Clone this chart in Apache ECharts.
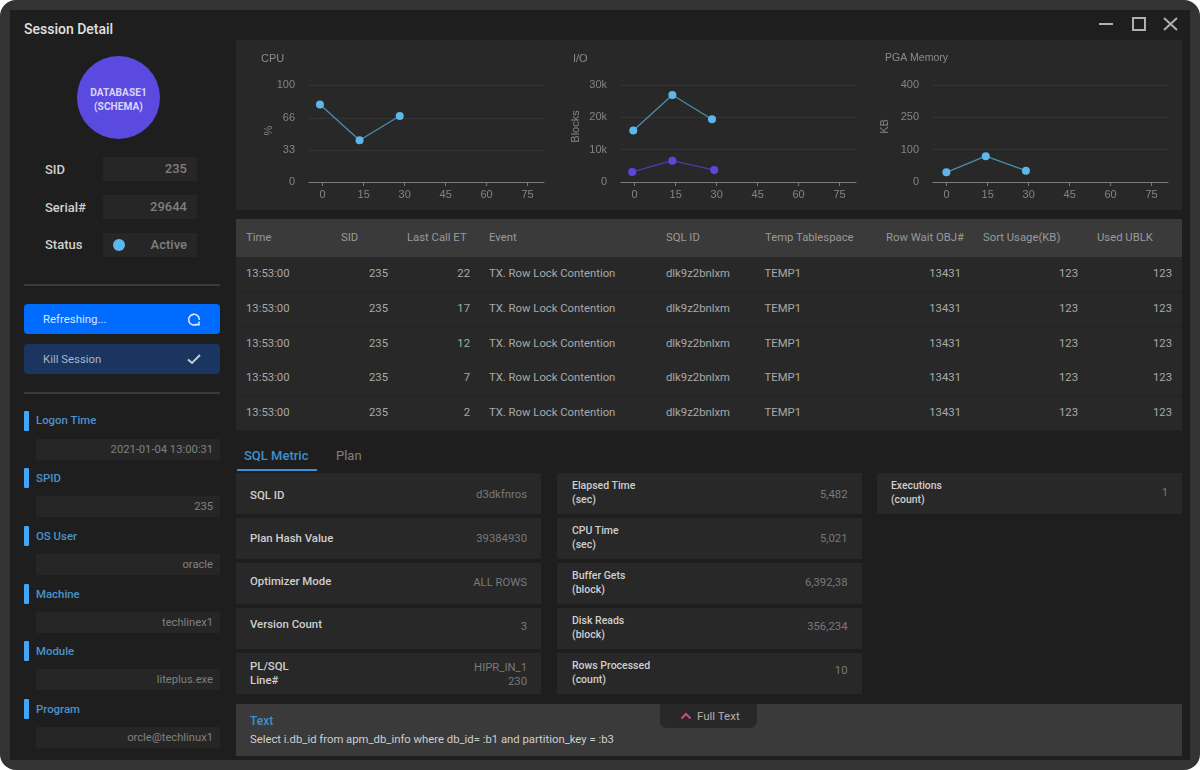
<!DOCTYPE html>
<html>
<head>
<meta charset="utf-8">
<title>Session Detail</title>
<script src="https://cdn.jsdelivr.net/npm/echarts@6/dist/echarts.min.js"></script>
<style>
html,body{margin:0;padding:0;width:1200px;height:770px;overflow:hidden;background:#fff;}
#frame{position:absolute;left:0;top:0;width:1200px;height:770px;background:#333;border-radius:16px;}
#win{position:absolute;left:10px;top:10px;width:1180px;height:750px;background:#1e1e1e;}
.p{position:absolute;font-family:Roboto,sans-serif;white-space:nowrap;box-sizing:border-box;}
#charts{position:absolute;left:236px;top:40px;width:946px;height:170px;}
</style>
</head>
<body>
<div id="frame"></div>
<div id="win"></div>
<div id="page"></div>
<div id="charts"></div>
<script>
// chart data
var xTicks = [0,15,30,45,60,75];
var cpuTicks = [0,33,66,100];
var ioTicks = [0,10000,20000,30000];
var pgaTicks = [0,100,200,300];
var pgaLabels = ['0','100','250','400'];
var cpuTimes = [-1,13.5,28.2];
var cpuValues = [80,43,68];
var ioTimes = [-0.5,13.8,28.3];
var ioBlueValues = [15900,26900,19400];
var ioPurpleTimes = [-0.9,13.8,29.1];
var ioPurpleValues = [3100,6600,3700];
var pgaTimes = [-0.1,14.3,29];
var pgaValues = [30,80,35];

// sidebar + table + metric texts
var detailLabels = ['Logon Time','SPID','OS User','Machine','Module','Program'];
var detailValues = ['2021-01-04 13:00:31','235','oracle','techlinex1','liteplus.exe','orcle@techlinux1'];
var infoLabels = ['SID','Serial#','Status'];
var infoValues = ['235','29644','Active'];
var tableHeads = ['Time','SID','Last Call ET','Event','SQL ID','Temp Tablespace','Row Wait OBJ#','Sort Usage(KB)','Used UBLK'];
var lastCallEt = [22,17,12,7,2];
var rowTime = '13:53:00', rowSid = '235', rowEvent = 'TX. Row Lock Contention', rowSqlId = 'dlk9z2bnlxm';
var rowTemp = 'TEMP1', rowObj = '13431', rowSort = '123', rowUblk = '123';
var metric1Labels = ['SQL ID','Plan Hash Value','Optimizer Mode','Version Count','PL/SQL<br>Line#'];
var metric1Values = ['d3dkfnros','39384930','ALL ROWS','3','HIPR_IN_1<br>230'];
var metric2Labels = ['Elapsed Time<br>(sec)','CPU Time<br>(sec)','Buffer Gets<br>(block)','Disk Reads<br>(block)','Rows Processed<br>(count)'];
var metric2Values = ['5,482','5,021','6,392,38','356,234','10'];
var metric3Labels = ['Executions<br>(count)'];
var metric3Values = ['1'];
var sqlText = 'Select i.db_id from apm_db_info where db_id= :b1 and partition_key = :b3';

var page = document.getElementById('page');
function place(x,y,w,h,css,html){
	var d = document.createElement('div');
	d.className = 'p';
	d.style.cssText = 'left:'+x+'px;top:'+y+'px;width:'+w+'px;height:'+h+'px;line-height:'+h+'px;'+(css||'');
	if(html){d.innerHTML = html;}
	page.appendChild(d);
	return d;
}

// window title + buttons
place(24,19,200,20,'color:#e0e0e0;font-size:14px;font-weight:500;','Session Detail');
place(1090,10,100,30,'',
	'<svg width="100" height="30" fill="none" stroke="#b0b0b0" stroke-width="2">'+
	'<path d="M9 14H23"/><rect x="43" y="8" width="12" height="12"/><path d="M74 8L87 20M87 8L74 20"/></svg>');

// sidebar top
place(77,56,83,83,'background:#5a4ae0;border-radius:50%;');
place(77,86,83,14,'text-align:center;color:#d8d4f5;font-size:10.2px;font-weight:700;','DATABASE1');
place(77,100,83,14,'text-align:center;color:#d8d4f5;font-size:10.2px;font-weight:700;','(SCHEMA)');
for(var i=0;i<infoLabels.length;i++){
	var iy = 157+i*38;
	place(45,i==2?iy:iy+1,55,24,'color:#d0d0d0;font-size:13px;font-weight:500;',infoLabels[i]);
	place(103,iy,94,24,'background:#262626;padding-right:10px;text-align:right;color:#7e7e7e;font-size:13px;font-weight:500;',infoValues[i]);
}
place(113,239,12,12,'background:#5db7ea;border-radius:50%;');

// buttons
place(24,284,196,2,'background:#3a3a3a;');
place(24,304,196,30,'background:#006cff;border-radius:4px;padding-left:19px;color:#d8e6ff;font-size:11.4px;','Refreshing...');
place(186,311,16,16,'','<svg width="16" height="16" fill="none" stroke="#dde8ff" stroke-width="1.6"><path d="M11 13.2A5.4 5.4 0 1 1 13.4 9"/><path d="M9.5 13.6H13V10.5"/></svg>');
place(24,344,196,30,'background:#1a3560;border-radius:4px;padding-left:19px;color:#a9b4c6;font-size:11.4px;','Kill Session');
place(186,351,16,16,'','<svg width="16" height="16" fill="none" stroke="#c8ccd2" stroke-width="2"><path d="M2 8.5L6 12L14 4"/></svg>');
place(24,392,196,2,'background:#3a3a3a;');

// sidebar details
for(var i=0;i<detailLabels.length;i++){
	var dy = Math.round(410.5+i*57.7);
	place(24,dy,4.5,20,'background:#42a5f5;border-radius:1px;');
	place(36,i==0?dy-1:dy,180,20,'color:#4a93cc;font-size:11.4px;font-weight:500;',detailLabels[i]);
	place(36,dy+28,184,21,'background:#262626;padding-right:7px;text-align:right;color:#808080;font-size:11.2px;',detailValues[i]);
}

// chart panel
place(236,40,946,170,'background:#282828;');

// table
place(236,219,946,38,'background:#3a3a3a;');
var headX = [246,341,407,489,666,765,886,983,1097];
for(var i=0;i<tableHeads.length;i++){
	place(headX[i],219,120,38,'color:#999;font-size:11.3px;',tableHeads[i]);
}
function cellLeft(x,y,t){place(x,y,180,34,'color:#a8a8a8;font-size:11.3px;',t);}
function cellRight(xr,y,t){place(xr-80,y,80,34,'text-align:right;color:#a8a8a8;font-size:11.3px;',t);}
for(var i=0;i<lastCallEt.length;i++){
	var ry = Math.round(257+i*34.75);
	place(236,ry,946,35,'background:#282828;border-bottom:1px solid #222;');
	cellLeft(246,ry,rowTime);
	cellRight(388,ry,rowSid);
	cellRight(470,ry,''+lastCallEt[i]);
	cellLeft(489,ry,rowEvent);
	cellLeft(666,ry,rowSqlId);
	cellLeft(764.5,ry,rowTemp);
	cellRight(961,ry,rowObj);
	cellRight(1078,ry,rowSort);
	cellRight(1172,ry,rowUblk);
}

// tabs
place(244,446,80,20,'color:#3f8fd0;font-size:13px;font-weight:500;','SQL Metric');
place(336,446,50,20,'color:#808080;font-size:13px;','Plan');
place(237,469,80,2,'background:#3a8fd6;');

// metric cards, the text drifts a little against the cards in the original
function metricCol(x,w,fs,pad,labels,values,labelDrift,valueDrift){
	for(var i=0;i<labels.length;i++){
		var cy = Math.round(472.5+i*45);
		place(x,cy,w,40.5,'background:#282828;');
		place(x+pad,cy+5.5+labelDrift(i),200,29,'line-height:14.5px;color:#cfcfcf;font-size:'+fs+'px;font-weight:500;display:flex;align-items:center;','<span>'+labels[i]+'</span>');
		place(x+w-164,cy+5.5+valueDrift(i),150,29,'line-height:14.5px;text-align:right;color:#797979;font-size:11.3px;display:flex;align-items:center;justify-content:flex-end;','<span>'+values[i]+'</span>');
	}
}
function none(i){return 0;}
metricCol(236,305,11.4,14,metric1Labels,metric1Values,
	function(i){return i==4?0:2-2*i;},
	function(i){return i==4?2:2-i;});
metricCol(557,304.5,10.5,15,metric2Labels,metric2Values,none,
	function(i){return 2-i;});
metricCol(877,305,10.4,14,metric3Labels,metric3Values,none,none);

// sql text bar
place(236,704,946,52,'background:#3a3a3a;');
place(250,714,60,14,'color:#3f8fd0;font-size:12px;font-weight:500;','Text');
place(250,732,800,15,'color:#cfcfcf;font-size:11.3px;',sqlText);
place(660,704,97,24,'background:#282828;border-radius:0 0 7px 7px;');
place(680,711,12,10,'','<svg width="12" height="10" fill="none" stroke="#d04a80" stroke-width="2"><path d="M1.5 7.5L6 3L10.5 7.5"/></svg>');
place(697,704,60,24,'color:#b0b0b0;font-size:11.5px;','Full Text');

// charts
var chartFont = '"Liberation Sans",Arial,sans-serif';
var chartTitles = ['CPU','I/O','PGA Memory'];
var titleLeft = [25,337,649];
var gridLeft = [73,385,697];
var yNames = ['%','Blocks','KB'];
var yNameGap = [35,40,43];
var yNameShift = [6,14,14];
var yMax = [100,30000,300];
var yTicks = [cpuTicks,ioTicks,pgaTicks];

function yLabel(idx,value){
	if(idx==1){return value==0?'0':(value/1000)+'k';}
	if(idx==2){return pgaLabels[pgaTicks.indexOf(value)];}
	return ''+value;
}

var option = {
	animation:false,
	backgroundColor:'transparent',
	title:[],grid:[],xAxis:[],yAxis:[],
	series:[]
};
for(var i=0;i<3;i++){
	option.title.push({text:chartTitles[i],left:titleLeft[i],top:13,padding:0,
		textStyle:{color:'#8c8c8c',fontSize:i==2?10.5:11,fontWeight:'normal',fontFamily:chartFont}});
	option.grid.push({left:gridLeft[i],width:235,top:45,height:97,containLabel:false});
	option.xAxis.push({
		type:'value',gridIndex:i,min:-5,max:81,
		axisLine:{show:true,onZero:false,lineStyle:{color:'#7c7c7c',width:1}},
		axisTick:{show:true,length:4,customValues:xTicks,lineStyle:{color:'#7c7c7c'}},
		axisLabel:{customValues:xTicks,color:'#858585',fontSize:11,margin:7,fontFamily:chartFont},
		splitLine:{show:false}
	});
	(function(idx){
		option.yAxis.push({
			type:'value',gridIndex:idx,min:0,max:yMax[idx],
			name:yNames[idx],nameLocation:'middle',nameGap:yNameGap[idx],nameMoveOverlap:false,
			nameTextStyle:{color:'#858585',fontSize:11,fontFamily:chartFont,padding:[0,0,0,yNameShift[idx]]},
			axisLine:{show:false},
			axisTick:{show:false,customValues:yTicks[idx]},
			axisLabel:{customValues:yTicks[idx],color:'#858585',fontSize:11,margin:14,fontFamily:chartFont,
				formatter:function(v){return yLabel(idx,v);}},
			splitLine:{show:true,lineStyle:{color:'#343434',width:1}}
		});
	})(i);
}
function pairs(xs,ys){
	var arr = [];
	for(var k=0;k<xs.length;k++){arr.push([xs[k],ys[k]]);}
	return arr;
}
function lineSeries(idx,xs,ys,lineColor,dotColor){
	return {type:'line',xAxisIndex:idx,yAxisIndex:idx,data:pairs(xs,ys),
		symbol:'circle',symbolSize:8,showSymbol:true,
		lineStyle:{color:lineColor,width:1.3},
		itemStyle:{color:dotColor}};
}
option.series.push(lineSeries(0,cpuTimes,cpuValues,'#4a8eae','#5db7ea'));
option.series.push(lineSeries(1,ioTimes,ioBlueValues,'#4a8eae','#5db7ea'));
option.series.push(lineSeries(1,ioPurpleTimes,ioPurpleValues,'#4a3cb5','#5a47e0'));
option.series.push(lineSeries(2,pgaTimes,pgaValues,'#4a8eae','#5db7ea'));

var chart = echarts.init(document.getElementById('charts'));
chart.setOption(option);
</script>
</body>
</html>
